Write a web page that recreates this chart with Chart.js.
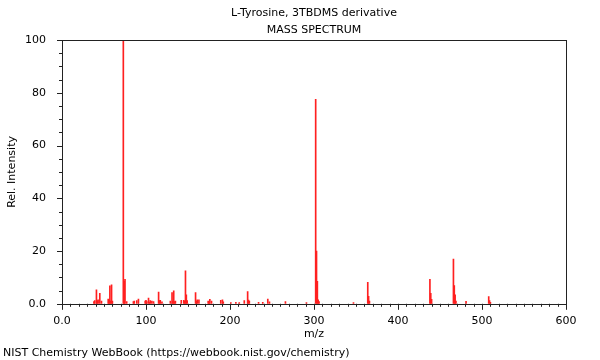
<!DOCTYPE html>
<html>
<head>
<meta charset="utf-8">
<script src="https://cdn.jsdelivr.net/npm/chart.js@4.4.1/dist/chart.umd.min.js"></script>
<style>
  html, body { margin: 0; padding: 0; background: #fff; }
  #wrap { width: 600px; height: 360px; }
</style>
</head>
<body>
<div id="wrap"><canvas id="spectrum"></canvas></div>
<script>
// peak list
const mzValues = [38, 39, 41, 42, 43, 45, 47, 55, 56, 57, 58, 59, 60, 73, 74, 75, 77,
  85, 86, 89, 91, 99, 100, 101, 103, 104, 105, 107, 109, 115, 116, 117, 119,
  129, 131, 132, 133, 134, 135, 142, 145, 146, 147, 148, 149, 159, 160, 161, 163,
  174, 175, 176, 178, 189, 191, 192, 201, 207, 211, 217, 221, 222, 223, 234, 239,
  245, 247, 266, 291, 302, 303, 304, 305, 306, 347, 364, 365, 366, 438, 439, 440,
  466, 467, 468, 469, 481, 508, 509, 510];
const intensities = [0.8, 1.2, 5.3, 1.2, 1.5, 4.0, 1.0, 1.8, 1.5, 6.8, 1.0, 7.2, 1.0, 100, 8.5, 9.3, 0.8,
  0.8, 1.0, 1.2, 1.8, 1.0, 1.3, 0.8, 2.2, 0.6, 1.2, 1.0, 0.8, 4.4, 1.2, 1.3, 0.7,
  1.0, 4.3, 1.0, 4.9, 0.8, 1.0, 1.3, 1.3, 1.0, 12.5, 3.4, 1.2, 4.3, 1.0, 1.5, 1.5,
  1.0, 0.7, 1.7, 1.0, 1.3, 1.5, 0.7, 0.5, 0.6, 0.5, 1.2, 4.6, 1.4, 1.0, 0.6, 0.6,
  1.8, 0.7, 0.8, 0.5, 77.5, 20, 8.5, 1.5, 0.8, 0.5, 8.1, 2.8, 1.0, 9.3, 4.0, 1.7,
  17, 6.9, 3.4, 1.0, 0.9, 2.7, 1.2, 0.6];

const titleLines = ['L-Tyrosine, 3TBDMS derivative', 'MASS SPECTRUM'];
const footerText = 'NIST Chemistry WebBook (https://webbook.nist.gov/chemistry)';
const xTickValues = [0, 100, 200, 300, 400, 500, 600];
const yTickValues = [0, 20, 40, 60, 80, 100];

const FONT = 'DejaVu Sans';

// frame + minor/major tick marks
const axisDecor = {
  id: 'axisDecor',
  afterDraw(chart) {
    const { ctx, chartArea: a, scales: { x, y } } = chart;
    ctx.save();
    ctx.strokeStyle = '#222';
    ctx.lineWidth = 1;
    ctx.strokeRect(Math.round(a.left) + 0.5, Math.round(a.top) + 0.5,
      Math.round(a.right - a.left), Math.round(a.bottom - a.top));
    ctx.beginPath();
    for (let v = 0; v <= 600; v += 10) {
      const px = Math.round(x.getPixelForValue(v)) + 0.5;
      const len = v % 100 === 0 ? 6 : 3;
      ctx.moveTo(px, a.bottom);
      ctx.lineTo(px, a.bottom + len);
    }
    for (let v = 0; v <= 100; v += 5) {
      const py = Math.round(y.getPixelForValue(v)) + 0.5;
      const len = v % 20 === 0 ? 5 : 3;
      ctx.moveTo(a.left, py);
      ctx.lineTo(a.left - len, py);
    }
    ctx.stroke();
    ctx.restore();
  }
};

new Chart(document.getElementById('spectrum'), {
  type: 'bar',
  data: {
    datasets: [{
      data: mzValues.map((m, i) => ({ x: m, y: intensities[i] })),
      backgroundColor: '#ff2020',
      borderWidth: 0,
      barThickness: 1,
      grouped: false
    }]
  },
  options: {
    responsive: true,
    maintainAspectRatio: false,
    animation: false,
    layout: { padding: { left: 3, right: 34, top: 0, bottom: 0 } },
    plugins: {
      legend: { display: false },
      tooltip: { enabled: false },
      title: {
        display: true,
        text: titleLines,
        fullSize: false,
        color: '#000',
        font: { family: FONT, size: 11, weight: 'normal', lineHeight: 1.55 },
        padding: { top: 5, bottom: 1 }
      },
      subtitle: {
        display: true,
        text: footerText,
        position: 'bottom',
        align: 'start',
        color: '#000',
        font: { family: FONT, size: 11, weight: 'normal' },
        padding: { top: 6, bottom: 0 }
      }
    },
    scales: {
      x: {
        type: 'linear',
        offset: false,
        min: 0,
        max: 600,
        afterBuildTicks: s => { s.ticks = xTickValues.map(v => ({ value: v })); },
        afterFit: s => { s.height = 37; },
        grid: { display: false },
        border: { display: false },
        ticks: {
          color: '#000',
          font: { family: FONT, size: 11 },
          padding: 3,
          maxRotation: 0,
          callback: v => v === 0 ? '0.0' : String(v)
        },
        title: {
          display: true,
          text: 'm/z',
          color: '#000',
          font: { family: FONT, size: 11 },
          padding: { top: 0, bottom: 0 }
        }
      },
      y: {
        min: 0,
        max: 100,
        afterBuildTicks: s => { s.ticks = yTickValues.map(v => ({ value: v })); },
        afterFit: s => { s.width = 59; },
        grid: { display: false },
        border: { display: false },
        ticks: {
          color: '#000',
          font: { family: FONT, size: 11 },
          padding: 8,
          callback: v => v === 0 ? '0.0' : String(v)
        },
        title: {
          display: true,
          text: 'Rel. Intensity',
          color: '#000',
          font: { family: FONT, size: 11 },
          padding: { top: 3, bottom: 4 }
        }
      }
    }
  },
  plugins: [axisDecor]
});
</script>
</body>
</html>
